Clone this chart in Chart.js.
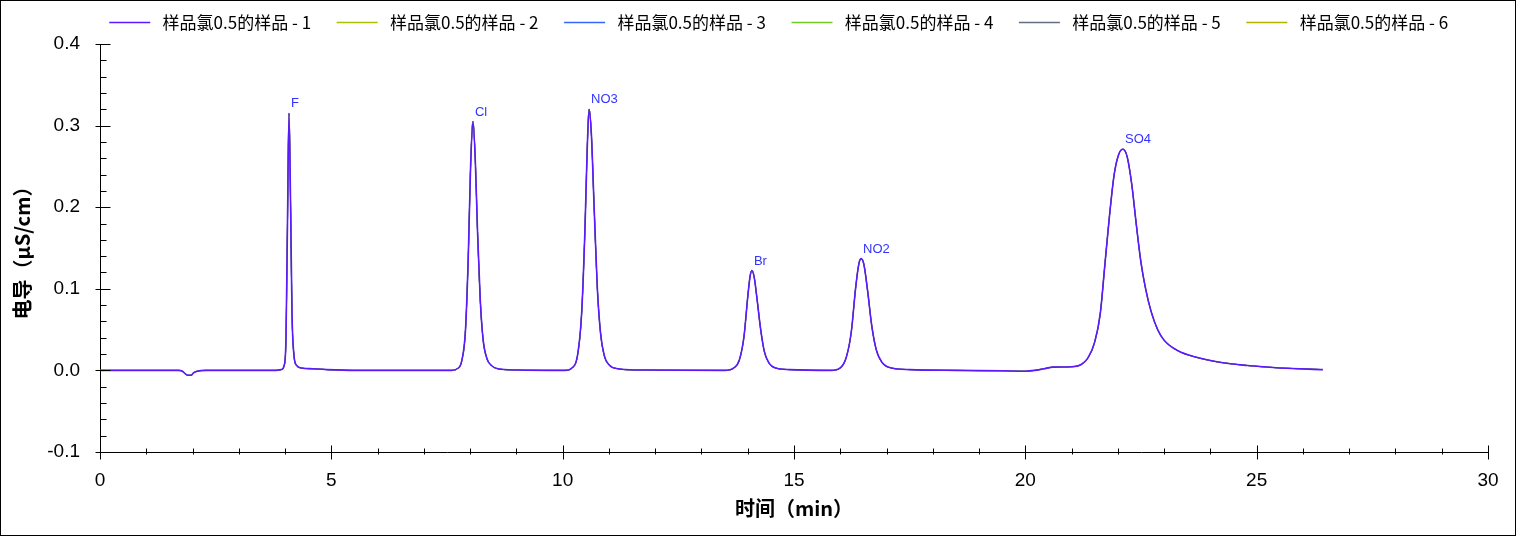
<!DOCTYPE html>
<html>
<head>
<meta charset="utf-8">
<script src="https://cdn.jsdelivr.net/npm/chart.js@4"></script>
<style>
  body { margin: 0; background: #fff; }
  #wrap { width: 1514px; height: 534px; border: 1px solid #000; }
  canvas { display: block; }
</style>
</head>
<body>
<div id="wrap"><canvas id="chromChart" width="1514" height="534"></canvas></div>
<script>
// retention time (min) and conductivity (µS/cm)
const times = [
    0, 1.7, 1.78, 1.84, 1.9, 1.97, 2.02, 2.1, 2.3, 3.8,
    3.92, 3.98, 4.02, 4.05, 4.085, 4.12, 4.15, 4.19, 4.25, 4.35, 4.6, 4.9, 5.5,
    7.6, 7.72, 7.82, 7.9, 7.96, 8.01, 8.06, 8.11, 8.16, 8.22, 8.28, 8.36, 8.46, 8.6, 9.0,
    10.05, 10.2, 10.32, 10.41, 10.48, 10.53, 10.57, 10.62, 10.68, 10.75, 10.82, 10.9, 11.0, 11.2, 11.6,
    13.5, 13.7, 13.82, 13.92, 14.0, 14.05, 14.09, 14.14, 14.2, 14.28, 14.36, 14.46, 14.6, 14.9,
    15.8, 16.0, 16.13, 16.24, 16.33, 16.4, 16.45, 16.51, 16.59, 16.68, 16.78, 16.9, 17.1, 17.5,
    18.5, 19.5, 20.0, 20.2, 20.4, 20.6, 21.0, 21.2, 21.35, 21.5, 21.62, 21.72, 21.82, 21.92, 22.02,
    22.11, 22.2, 22.3, 22.4, 22.5, 22.6, 22.72, 22.86, 23.0, 23.3, 23.7, 24.2, 24.8, 25.5, 26.43
];
const signal = [
    0, 0, -0.001, -0.004, -0.006, -0.006, -0.003, -0.001, 0, 0,
    0.001, 0.006, 0.04, 0.17, 0.315, 0.2, 0.07, 0.02, 0.006, 0.003, 0.002, 0.001, 0,
    0, 0.002, 0.012, 0.05, 0.14, 0.25, 0.305, 0.26, 0.17, 0.085, 0.038, 0.015, 0.006, 0.002, 0.0005,
    0, 0.003, 0.018, 0.07, 0.17, 0.27, 0.32, 0.29, 0.2, 0.1, 0.045, 0.018, 0.007, 0.002, 0.0005,
    0, 0.003, 0.013, 0.042, 0.09, 0.115, 0.1225, 0.114, 0.088, 0.05, 0.023, 0.009, 0.003, 0.001,
    0, 0.003, 0.016, 0.048, 0.1, 0.13, 0.137, 0.13, 0.098, 0.055, 0.025, 0.01, 0.003, 0.001,
    0, -0.0005, -0.001, 0, 0.002, 0.004, 0.0045, 0.007, 0.015, 0.035, 0.07, 0.13, 0.19, 0.24, 0.265,
    0.271, 0.262, 0.228, 0.178, 0.132, 0.1, 0.072, 0.05, 0.037, 0.024, 0.016, 0.01, 0.006, 0.003, 0.001
];

const seriesNames = [
    '样品氯0.5的样品 - 1', '样品氯0.5的样品 - 2', '样品氯0.5的样品 - 3',
    '样品氯0.5的样品 - 4', '样品氯0.5的样品 - 5', '样品氯0.5的样品 - 6'
];
const seriesColors = ['#5b19ff', '#b0c000', '#3366ff', '#70cc20', '#607080', '#b4b400'];

const peakNames = ['F', 'Cl', 'NO3', 'Br', 'NO2', 'SO4'];
const peakTimes = [4.085, 8.06, 10.57, 14.09, 16.45, 22.11];
const peakHeights = [0.315, 0.305, 0.32, 0.1225, 0.137, 0.271];

const points = times.map((t, i) => ({ x: t, y: signal[i] }));

// peak names + inside/outside ticks with minor marks
const decorations = {
    id: 'decorations',
    afterLayout(chart) {
        // legend row sits right of the canvas centre and a little higher than its box
        const lg = chart.legend;
        lg.left += 39; lg.right += 39;
        lg.top -= 3; lg.bottom -= 3;
    },
    afterDatasetsDraw(chart) {
        const { ctx, scales: { x, y } } = chart;
        ctx.save();
        ctx.fillStyle = '#3333ff';
        ctx.font = '13px "Liberation Sans", Arial, sans-serif';
        ctx.textBaseline = 'bottom';
        ctx.textAlign = 'left';
        peakNames.forEach((name, i) => {
            ctx.fillText(name, x.getPixelForValue(peakTimes[i]) + 2, y.getPixelForValue(peakHeights[i]) - 3);
        });
        ctx.restore();
    },
    afterDraw(chart) {
        const { ctx, scales: { x, y } } = chart;
        ctx.save();
        ctx.strokeStyle = '#000';
        ctx.lineWidth = 1;
        ctx.beginPath();
        const y0 = Math.round(y.getPixelForValue(-0.1)) + 0.5;
        for (let v = 0; v <= 30; v += 1) {
            const px = Math.round(x.getPixelForValue(v)) + 0.5;
            const major = v % 5 === 0;
            ctx.moveTo(px, y0 - (major ? 7 : 4));
            ctx.lineTo(px, y0 + (major ? 7 : 2));
        }
        const x0 = Math.round(x.getPixelForValue(0)) + 0.5;
        for (let k = -5; k <= 20; k++) {
            const py = Math.round(y.getPixelForValue(k * 0.02)) + 0.5;
            const major = k % 5 === 0;
            ctx.moveTo(x0 - (major ? 5 : 0), py);
            ctx.lineTo(x0 + (major ? 10 : 6), py);
        }
        ctx.stroke();
        ctx.restore();
    }
};

Chart.defaults.color = '#000';
Chart.defaults.font.family = '"Liberation Sans", Arial, sans-serif';

new Chart(document.getElementById('chromChart'), {
    type: 'line',
    data: {
        datasets: seriesNames.map((name, i) => ({
            label: name,
            data: points,
            borderColor: seriesColors[i],
            backgroundColor: seriesColors[i],
            borderWidth: i === 0 ? 1.6 : 1,
            pointRadius: 0,
            cubicInterpolationMode: 'monotone',
        })),
    },
    options: {
        responsive: false,
        animation: false,
        layout: { padding: { right: 27, bottom: 0, top: 0, left: 0 } },
        plugins: {
            legend: {
                labels: {
                    boxWidth: 41,
                    boxHeight: 0,
                    padding: 16,
                    font: { family: '"Noto Sans CJK SC", sans-serif', size: 17 },
                    generateLabels: (chart) => Chart.defaults.plugins.legend.labels.generateLabels(chart).map((item) => ({
                        ...item,
                        text: ' ' + item.text + '\u2002\u200a',
                        lineWidth: 1.5,
                    })),
                },
            },
            tooltip: { enabled: false },
        },
        scales: {
            x: {
                type: 'linear',
                min: 0,
                max: 30,
                grid: { display: false },
                border: { display: true, color: '#000' },
                ticks: { stepSize: 5, padding: 9, font: { size: 19 } },
                title: {
                    display: true,
                    text: '时间（min）',
                    font: { family: '"Noto Sans CJK SC", sans-serif', size: 20, weight: 'bold' },
                    padding: { top: 0, bottom: 15 },
                },
                afterFit: (s) => { s.height = 83; },
            },
            y: {
                min: -0.1,
                max: 0.4,
                grid: { display: false },
                border: { display: true, color: '#000' },
                ticks: { stepSize: 0.1, padding: 12, font: { size: 19 }, callback: (v) => v.toFixed(1) },
                title: {
                    display: true,
                    text: '电导（μS/cm）',
                    font: { family: '"Noto Sans CJK SC", sans-serif', size: 20, weight: 'bold' },
                    padding: { top: 9, bottom: 0 },
                },
                afterFit: (s) => { s.width = 99; },
            },
        },
    },
    plugins: [decorations],
});
</script>
</body>
</html>
